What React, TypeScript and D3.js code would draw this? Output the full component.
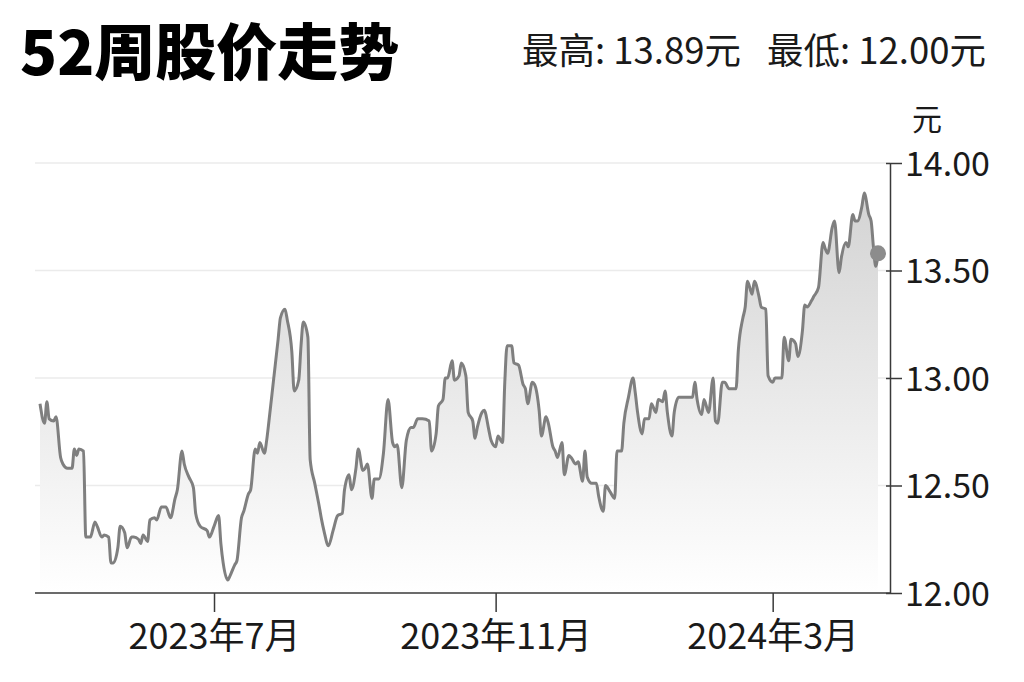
import React, { useEffect, useRef } from 'react';
import * as d3 from 'd3';

// closing prices (date, yuan)
const priceSeries: [string, number][] = [
  ['2023-04-16', 12.88], ['2023-04-18', 12.79], ['2023-04-19', 12.89], ['2023-04-20', 12.81],
  ['2023-04-22', 12.8], ['2023-04-23', 12.82], ['2023-04-25', 12.63], ['2023-04-26', 12.6],
  ['2023-04-28', 12.58], ['2023-04-30', 12.58], ['2023-05-01', 12.67], ['2023-05-02', 12.64],
  ['2023-05-03', 12.67], ['2023-05-05', 12.66], ['2023-05-06', 12.26], ['2023-05-08', 12.26],
  ['2023-05-10', 12.33], ['2023-05-11', 12.31], ['2023-05-13', 12.26], ['2023-05-14', 12.27],
  ['2023-05-16', 12.26], ['2023-05-17', 12.14], ['2023-05-18', 12.14], ['2023-05-20', 12.21],
  ['2023-05-21', 12.31], ['2023-05-23', 12.28], ['2023-05-24', 12.21], ['2023-05-26', 12.26],
  ['2023-05-27', 12.26], ['2023-05-29', 12.25], ['2023-05-30', 12.23], ['2023-05-31', 12.27],
  ['2023-06-02', 12.24], ['2023-06-03', 12.34], ['2023-06-05', 12.35], ['2023-06-06', 12.34],
  ['2023-06-08', 12.4], ['2023-06-10', 12.4], ['2023-06-12', 12.35], ['2023-06-14', 12.44],
  ['2023-06-15', 12.48], ['2023-06-17', 12.66], ['2023-06-18', 12.6], ['2023-06-20', 12.54],
  ['2023-06-22', 12.49], ['2023-06-23', 12.37], ['2023-06-25', 12.31], ['2023-06-28', 12.29],
  ['2023-06-29', 12.26], ['2023-07-01', 12.31], ['2023-07-03', 12.36], ['2023-07-04', 12.23],
  ['2023-07-05', 12.14], ['2023-07-07', 12.06], ['2023-07-08', 12.08], ['2023-07-10', 12.13],
  ['2023-07-11', 12.15], ['2023-07-13', 12.35], ['2023-07-14', 12.38], ['2023-07-16', 12.46],
  ['2023-07-17', 12.48], ['2023-07-19', 12.67], ['2023-07-20', 12.65], ['2023-07-21', 12.7],
  ['2023-07-23', 12.65], ['2023-07-24', 12.71], ['2023-07-25', 12.8], ['2023-07-27', 12.99],
  ['2023-07-29', 13.18], ['2023-07-30', 13.28], ['2023-08-01', 13.32], ['2023-08-02', 13.27],
  ['2023-08-04', 13.12], ['2023-08-05', 12.94], ['2023-08-07', 12.99], ['2023-08-08', 13.15],
  ['2023-08-09', 13.26], ['2023-08-11', 13.19], ['2023-08-12', 12.62], ['2023-08-14', 12.51],
  ['2023-08-16', 12.4], ['2023-08-17', 12.34], ['2023-08-18', 12.29], ['2023-08-20', 12.22],
  ['2023-08-22', 12.29], ['2023-08-24', 12.36], ['2023-08-26', 12.37], ['2023-08-27', 12.48],
  ['2023-08-29', 12.55], ['2023-08-30', 12.48], ['2023-09-01', 12.58], ['2023-09-02', 12.67],
  ['2023-09-04', 12.57], ['2023-09-05', 12.58], ['2023-09-06', 12.6], ['2023-09-08', 12.44],
  ['2023-09-09', 12.53], ['2023-09-11', 12.53], ['2023-09-13', 12.65], ['2023-09-15', 12.9],
  ['2023-09-17', 12.7], ['2023-09-18', 12.68], ['2023-09-19', 12.69], ['2023-09-21', 12.49],
  ['2023-09-23', 12.71], ['2023-09-25', 12.77], ['2023-09-26', 12.77], ['2023-09-28', 12.81],
  ['2023-09-30', 12.81], ['2023-10-03', 12.8], ['2023-10-04', 12.66], ['2023-10-06', 12.74],
  ['2023-10-07', 12.87], ['2023-10-09', 12.9], ['2023-10-10', 13.0], ['2023-10-11', 13.0],
  ['2023-10-13', 13.08], ['2023-10-14', 12.99], ['2023-10-16', 13.01], ['2023-10-17', 13.07],
  ['2023-10-19', 13.01], ['2023-10-20', 12.84], ['2023-10-22', 12.8], ['2023-10-23', 12.72],
  ['2023-10-24', 12.77], ['2023-10-26', 12.84], ['2023-10-27', 12.85], ['2023-10-29', 12.76],
  ['2023-10-30', 12.71], ['2023-11-01', 12.68], ['2023-11-02', 12.73], ['2023-11-04', 12.7],
  ['2023-11-05', 12.98], ['2023-11-06', 13.15], ['2023-11-08', 13.15], ['2023-11-09', 13.07],
  ['2023-11-11', 13.06], ['2023-11-13', 12.97], ['2023-11-14', 12.95], ['2023-11-15', 12.88],
  ['2023-11-17', 12.98], ['2023-11-18', 12.97], ['2023-11-20', 12.85], ['2023-11-21', 12.73],
  ['2023-11-23', 12.82], ['2023-11-24', 12.79], ['2023-11-26', 12.68], ['2023-11-27', 12.66],
  ['2023-11-28', 12.63], ['2023-11-30', 12.7], ['2023-12-01', 12.55], ['2023-12-03', 12.64],
  ['2023-12-04', 12.63], ['2023-12-06', 12.6], ['2023-12-07', 12.61], ['2023-12-09', 12.52],
  ['2023-12-10', 12.66], ['2023-12-11', 12.54], ['2023-12-13', 12.51], ['2023-12-15', 12.51],
  ['2023-12-16', 12.45], ['2023-12-18', 12.38], ['2023-12-19', 12.5], ['2023-12-21', 12.47],
  ['2023-12-23', 12.44], ['2023-12-24', 12.66], ['2023-12-26', 12.66], ['2023-12-27', 12.79],
  ['2023-12-29', 12.91], ['2023-12-31', 13.0], ['2024-01-01', 12.93], ['2024-01-02', 12.84],
  ['2024-01-04', 12.74], ['2024-01-05', 12.81], ['2024-01-07', 12.81], ['2024-01-08', 12.88],
  ['2024-01-10', 12.84], ['2024-01-11', 12.9], ['2024-01-13', 12.89], ['2024-01-14', 12.94],
  ['2024-01-15', 12.84], ['2024-01-17', 12.73], ['2024-01-18', 12.84], ['2024-01-20', 12.91],
  ['2024-01-22', 12.91], ['2024-01-24', 12.91], ['2024-01-26', 12.91], ['2024-01-27', 12.98],
  ['2024-01-28', 12.9], ['2024-01-30', 12.83], ['2024-01-31', 12.9], ['2024-02-02', 12.84],
  ['2024-02-04', 13.0], ['2024-02-05', 12.8], ['2024-02-06', 12.79], ['2024-02-08', 12.98],
  ['2024-02-09', 12.98], ['2024-02-11', 12.95], ['2024-02-14', 12.95], ['2024-02-15', 13.13],
  ['2024-02-17', 13.28], ['2024-02-18', 13.33], ['2024-02-19', 13.45], ['2024-02-21', 13.39],
  ['2024-02-22', 13.45], ['2024-02-24', 13.38], ['2024-02-25', 13.33], ['2024-02-27', 13.32],
  ['2024-02-28', 13.01], ['2024-03-01', 12.98], ['2024-03-02', 13.0], ['2024-03-03', 13.0],
  ['2024-03-05', 13.0], ['2024-03-06', 13.19], ['2024-03-08', 13.08], ['2024-03-09', 13.18],
  ['2024-03-11', 13.16], ['2024-03-12', 13.1], ['2024-03-14', 13.22], ['2024-03-15', 13.34],
  ['2024-03-16', 13.33], ['2024-03-18', 13.36], ['2024-03-19', 13.38], ['2024-03-21', 13.42],
  ['2024-03-23', 13.63], ['2024-03-24', 13.6], ['2024-03-25', 13.58], ['2024-03-27', 13.7],
  ['2024-03-28', 13.73], ['2024-03-30', 13.49], ['2024-03-31', 13.56], ['2024-04-02', 13.63],
  ['2024-04-03', 13.61], ['2024-04-05', 13.76], ['2024-04-06', 13.73], ['2024-04-07', 13.73],
  ['2024-04-09', 13.8], ['2024-04-10', 13.86], ['2024-04-12', 13.76], ['2024-04-13', 13.73],
  ['2024-04-14', 13.61], ['2024-04-15', 13.52], ['2024-04-16', 13.58],
];

const yTicks = [12, 12.5, 13, 13.5, 14];
const monthTicks = ['2023-07-01', '2023-11-01', '2024-03-01'];
const monthLabels = ['2023年7月', '2023年11月', '2024年3月'];

const title = '52周股价走势';
const highLabel = '最高: 13.89元';
const lowLabel = '最低: 12.00元';
const unitLabel = '元';

const WIDTH = 1024;
const HEIGHT = 682;
const FONT = '"Noto Sans CJK SC", "Noto Sans", sans-serif';

export default function App() {
  const svgRef = useRef<SVGSVGElement>(null);

  useEffect(() => {
    if (!svgRef.current) return;
    const svg = d3.select(svgRef.current);
    svg.selectAll('*').remove();

    const parse = d3.timeParse('%Y-%m-%d');
    const data = priceSeries.map(([d, v]) => ({ date: parse(d)!, value: v }));

    const plotLeft = 35;
    const axisX = 890;

    const x = d3
      .scaleTime()
      .domain(d3.extent(data, (d) => d.date) as [Date, Date])
      .range([40, 878]);
    const y = d3.scaleLinear().domain([12, 14]).range([593, 163]);

    // background
    svg.append('rect').attr('width', WIDTH).attr('height', HEIGHT).attr('fill', '#fff');

    // gradient for area under the line
    const defs = svg.append('defs');
    const grad = defs
      .append('linearGradient')
      .attr('id', 'areaFill')
      .attr('gradientUnits', 'userSpaceOnUse')
      .attr('x1', 0)
      .attr('x2', 0)
      .attr('y1', y(14))
      .attr('y2', y(12));
    grad.append('stop').attr('offset', '0%').attr('stop-color', '#d0d0d0');
    grad.append('stop').attr('offset', '100%').attr('stop-color', '#ffffff');

    // gridlines
    svg
      .append('g')
      .selectAll('line')
      .data(yTicks.filter((t) => t !== 12))
      .enter()
      .append('line')
      .attr('x1', plotLeft)
      .attr('x2', axisX)
      .attr('y1', (d) => y(d))
      .attr('y2', (d) => y(d))
      .attr('stroke', '#ebebeb')
      .attr('stroke-width', 1.5);

    // area + line
    const area = d3
      .area<{ date: Date; value: number }>()
      .x((d) => x(d.date))
      .y0(y(12))
      .y1((d) => y(d.value))
      .curve(d3.curveMonotoneX);
    const line = d3
      .line<{ date: Date; value: number }>()
      .x((d) => x(d.date))
      .y((d) => y(d.value))
      .curve(d3.curveMonotoneX);

    svg.append('path').datum(data).attr('d', area).attr('fill', 'url(#areaFill)');
    svg
      .append('path')
      .datum(data)
      .attr('d', line)
      .attr('fill', 'none')
      .attr('stroke', '#7f7f7f')
      .attr('stroke-width', 3)
      .attr('stroke-linejoin', 'round');

    // last price marker
    const last = data[data.length - 1];
    svg
      .append('circle')
      .attr('cx', x(last.date))
      .attr('cy', y(last.value))
      .attr('r', 8)
      .attr('fill', '#8c8c8c');

    // baseline
    svg
      .append('line')
      .attr('x1', plotLeft)
      .attr('x2', axisX)
      .attr('y1', y(12))
      .attr('y2', y(12))
      .attr('stroke', '#3a3a3a')
      .attr('stroke-width', 1.5);

    // x axis ticks and labels
    const xAxis = svg
      .append('g')
      .attr('transform', `translate(0, ${y(12)})`)
      .call(
        d3
          .axisBottom(x)
          .tickValues(monthTicks.map((d) => parse(d)!))
          .tickSize(19)
          .tickFormat((_, i) => monthLabels[i])
      );
    xAxis.select('.domain').remove();
    xAxis.selectAll('.tick line').attr('stroke', '#3a3a3a').attr('stroke-width', 1.5);
    xAxis
      .selectAll('.tick text')
      .attr('y', 56)
      .attr('dy', 0)
      .attr('fill', '#1a1a1a')
      .attr('font-size', 36)
      .attr('font-family', FONT);

    // right y axis
    const yAxis = svg
      .append('g')
      .attr('transform', `translate(${axisX}, 0)`)
      .call(
        d3
          .axisRight(y)
          .tickValues(yTicks)
          .tickSize(12)
          .tickSizeOuter(0)
          .tickPadding(3)
          .tickFormat((d) => d3.format('.2f')(d as number))
      );
    yAxis.select('.domain').attr('stroke', '#3a3a3a').attr('stroke-width', 1.5);
    yAxis.selectAll('.tick line').attr('x1', -4).attr('stroke', '#3a3a3a').attr('stroke-width', 1.5);
    yAxis
      .selectAll('.tick text')
      .attr('fill', '#1a1a1a')
      .attr('font-size', 34)
      .attr('font-family', FONT)
      .attr('dy', '0.36em');

    // unit label
    svg
      .append('text')
      .attr('x', 912)
      .attr('y', 130)
      .attr('fill', '#1a1a1a')
      .attr('font-size', 30)
      .attr('font-family', FONT)
      .text(unitLabel);

    // title
    svg
      .append('text')
      .attr('x', 20)
      .attr('y', 75)
      .attr('fill', '#000')
      .attr('font-size', 61)
      .attr('font-weight', 900)
      .attr('font-family', FONT)
      .text(title);

    // high / low summary
    svg
      .append('text')
      .attr('x', 741)
      .attr('y', 64)
      .attr('text-anchor', 'end')
      .attr('fill', '#1a1a1a')
      .attr('font-size', 36.5)
      .attr('font-family', FONT)
      .text(highLabel);
    svg
      .append('text')
      .attr('x', 986)
      .attr('y', 64)
      .attr('text-anchor', 'end')
      .attr('fill', '#1a1a1a')
      .attr('font-size', 36.5)
      .attr('font-family', FONT)
      .text(lowLabel);
  }, []);

  return (
    <svg
      ref={svgRef}
      width={WIDTH}
      height={HEIGHT}
      style={{ position: 'absolute', left: 0, top: 0 }}
    />
  );
}
